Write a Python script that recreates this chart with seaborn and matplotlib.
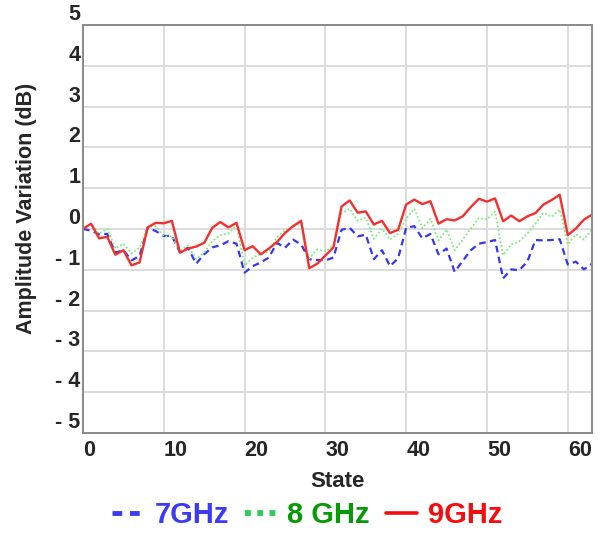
import numpy as np
import pandas as pd
import matplotlib
matplotlib.use("Agg")
import matplotlib.pyplot as plt
from matplotlib.lines import Line2D
import seaborn as sns

# Amplitude variation (dB) per phase-shifter state, three frequencies
states = list(range(64))
amp_7ghz = [0.00, -0.04, -0.13, -0.12, -0.58, -0.52, -0.77, -0.66, 0.03, -0.05,
            -0.17, -0.17, -0.57, -0.46, -0.85, -0.62, -0.45, -0.40, -0.30, -0.36,
            -1.07, -0.91, -0.82, -0.70, -0.34, -0.46, -0.26, -0.38, -0.74, -0.76,
            -0.77, -0.70, -0.02, 0.03, -0.18, -0.14, -0.74, -0.52, -0.91, -0.72,
            0.03, 0.07, -0.23, -0.12, -0.62, -0.48, -1.05, -0.78, -0.52, -0.36,
            -0.32, -0.27, -1.21, -0.99, -1.01, -0.80, -0.27, -0.28, -0.27, -0.25,
            -0.87, -0.80, -0.99, -0.85]
amp_8ghz = [0.00, 0.13, -0.12, 0.01, -0.48, -0.36, -0.60, -0.46, 0.05, 0.07,
            -0.18, -0.18, -0.54, -0.40, -0.74, -0.58, -0.30, -0.15, -0.11, 0.10,
            -0.90, -0.70, -0.62, -0.55, -0.20, -0.03, 0.05, 0.15, -0.72, -0.50,
            -0.55, -0.40, 0.38, 0.50, 0.20, 0.28, -0.24, 0.01, -0.26, -0.11,
            0.25, 0.50, 0.02, 0.25, -0.28, -0.01, -0.52, -0.26, 0.01, 0.27,
            0.23, 0.43, -0.64, -0.38, -0.30, -0.11, 0.13, 0.40, 0.30, 0.48,
            -0.38, -0.13, -0.26, -0.01]
amp_9ghz = [0.00, 0.13, -0.23, -0.19, -0.63, -0.52, -0.89, -0.82, 0.04, 0.15,
            0.14, 0.20, -0.58, -0.48, -0.43, -0.34, 0.03, 0.17, 0.04, 0.15,
            -0.52, -0.42, -0.62, -0.48, -0.32, -0.10, 0.07, 0.20, -0.96, -0.85,
            -0.65, -0.45, 0.55, 0.70, 0.40, 0.43, 0.11, 0.20, -0.10, -0.02,
            0.60, 0.72, 0.61, 0.68, 0.13, 0.24, 0.21, 0.31, 0.54, 0.74,
            0.67, 0.75, 0.19, 0.33, 0.19, 0.31, 0.39, 0.60, 0.71, 0.84,
            -0.15, 0.01, 0.23, 0.35]

series_labels = ["7GHz", "8 GHz", "9GHz"]
y_ticks = [-5, -4, -3, -2, -1, 0, 1, 2, 3, 4, 5]
y_tick_labels = ["- 5", "- 4", "- 3", "- 2", "- 1", "0", "1", "2", "3", "4", "5"]
x_ticks = [0, 10, 20, 30, 40, 50, 60]

line_colors = ["#3636f0", "#80ea80", "#f23030"]
text_colors = ["#3b3bf5", "#079907", "#f50d0d"]

sns.set_style("white")
plt.rcParams["font.family"] = ["Liberation Sans", "DejaVu Sans"]

df = pd.DataFrame({
    "State": states * 3,
    "Amp": amp_7ghz + amp_8ghz + amp_9ghz,
    "Freq": [series_labels[0]] * 64 + [series_labels[1]] * 64 + [series_labels[2]] * 64,
})

fig = plt.figure(figsize=(6.03, 5.33), dpi=100)
ax = fig.add_axes([83 / 603, 1 - 433 / 533, (592 - 83) / 603, (433 - 25) / 533])

styles = [dict(lw=1.6, ls=(0, (3, 2))), dict(lw=1.3, ls=(0, (1, 1.2))), dict(lw=1.7, ls="-")]
for lab, col, st in zip(series_labels, line_colors, styles):
    sub = df[df["Freq"] == lab]
    sns.lineplot(data=sub, x="State", y="Amp", ax=ax, color=col,
                 linewidth=st["lw"], linestyle=st["ls"], legend=False)

ax.set_xlim(0, 63)
ax.set_ylim(-5, 5)
ax.set_xticks(x_ticks)
ax.set_xticks(np.arange(5, 63, 10), minor=True)
ax.set_yticks(y_ticks)
ax.set_yticklabels(y_tick_labels)
ax.grid(True, which="major", color="#dcdcdc", lw=1.4)
ax.set_axisbelow(True)
for sp in ax.spines.values():
    sp.set_color("#8a8a8a")
    sp.set_linewidth(1.4)

ax.tick_params(axis="both", which="major", length=0, labelsize=15.5)
ax.tick_params(axis="x", which="major", pad=5)
ax.tick_params(axis="y", which="major", pad=2)
ax.tick_params(axis="x", which="minor", length=3, direction="in", color="#8a8a8a")
for t in ax.get_xticklabels():
    t.set_fontweight("bold")
    t.set_ha("left")
for t in ax.get_yticklabels():
    t.set_fontweight("bold")
    t.set_va("bottom")

ax.set_xlabel("State", fontsize=16, fontweight="bold", labelpad=7)
ax.set_ylabel("Amplitude Variation (dB)", fontsize=15.5, fontweight="bold")
ax.yaxis.set_label_coords(-0.09, 0.55)

handles = [
    Line2D([], [], color="#3b3bf5", lw=3.5, ls=(0, (2.0, 1.6))),
    Line2D([], [], color="#2ecc5a", lw=4.2, ls=(0, (1, 1.1))),
    Line2D([], [], color="#f50d0d", lw=2.6, ls="-"),
]
leg = fig.legend(handles, series_labels, loc="center", bbox_to_anchor=(0.51, 1 - 515 / 533),
                 ncol=3, frameon=False, prop=dict(weight="bold", size=21),
                 handlelength=1.05, handletextpad=0.4, columnspacing=0.55)
for t, c in zip(leg.get_texts(), text_colors):
    t.set_color(c)

fig.savefig("out.png", dpi=100)
